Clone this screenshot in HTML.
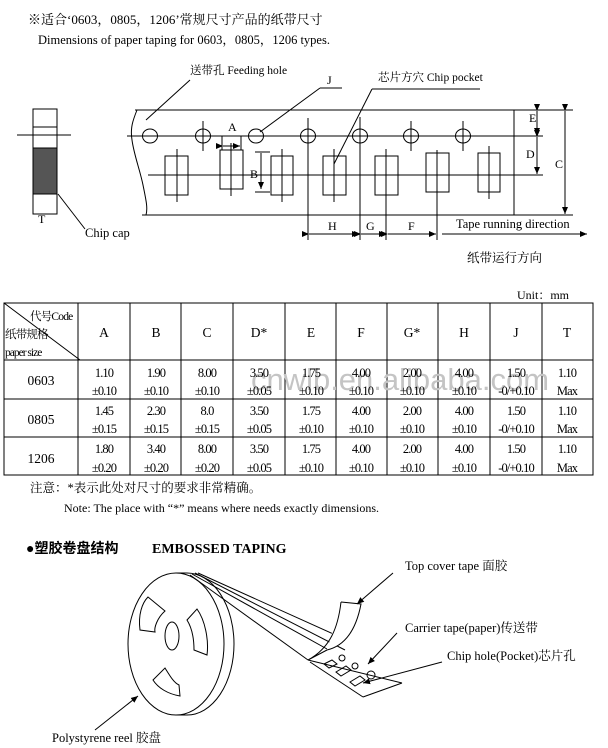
<!DOCTYPE html>
<html><head><meta charset="utf-8"><style>
html,body{margin:0;padding:0;background:#fff;}
svg{display:block;}
text{font-family:"Liberation Serif","Noto Serif CJK SC","Noto Sans CJK SC",serif;fill:#000;}
</style></head><body>
<svg width="608" height="748" viewBox="0 0 608 748" xmlns="http://www.w3.org/2000/svg">
<defs><marker id="ar" markerWidth="8" markerHeight="8" refX="7" refY="4" orient="auto" markerUnits="userSpaceOnUse"><path d="M0,1 L7,4 L0,7 z" fill="#000"/></marker></defs>
<text x="28" y="24" font-size="13">※适合‘0603，0805，1206’常规尺寸产品的纸带尺寸</text>
<text x="38" y="44" font-size="12.5">Dimensions of paper taping for 0603，0805，1206 types.</text>

<g stroke="#000" stroke-width="1" fill="none">
<rect x="33" y="109" width="24" height="105"/>
<line x1="33" y1="127" x2="57" y2="127"/>
<rect x="33" y="148" width="24" height="46" fill="#555"/>
<line x1="17" y1="135" x2="71" y2="135"/>
<line x1="58" y1="194" x2="85" y2="229"/>
<line x1="135" y1="110" x2="573" y2="110"/>
<line x1="127" y1="136" x2="542" y2="136"/>
<line x1="148" y1="175" x2="542" y2="175"/>
<line x1="142" y1="215" x2="573" y2="215"/>
<line x1="514" y1="110" x2="514" y2="215"/>
<path d="M137,110 C133,120 130,128 132,140 C134,155 140,170 143,185 C146,200 148,208 146,215"/>
<g>
<ellipse cx="150" cy="136" rx="7.5" ry="7"/>
<ellipse cx="203" cy="136" rx="7.5" ry="7"/>
<ellipse cx="256" cy="136" rx="7.5" ry="7"/>
<ellipse cx="308" cy="136" rx="7.5" ry="7"/>
<ellipse cx="360" cy="136" rx="7.5" ry="7"/>
<ellipse cx="411" cy="136" rx="7.5" ry="7"/>
<ellipse cx="463" cy="136" rx="7.5" ry="7"/>
<line x1="203" y1="121" x2="203" y2="151"/>
<line x1="411" y1="121" x2="411" y2="151"/>
<line x1="463" y1="121" x2="463" y2="151"/>
<line x1="308" y1="118" x2="308" y2="240"/>
<line x1="360" y1="117" x2="360" y2="240"/>
</g>
<rect x="165" y="156" width="23" height="39"/><line x1="177" y1="149" x2="177" y2="202"/>
<rect x="220" y="150" width="23" height="39"/><line x1="231" y1="143" x2="231" y2="196"/>
<rect x="271" y="156" width="22" height="39"/><line x1="282" y1="149" x2="282" y2="202"/>
<rect x="323" y="156" width="23" height="39"/><line x1="334" y1="149" x2="334" y2="202"/>
<rect x="375" y="156" width="23" height="39"/><line x1="386" y1="149" x2="386" y2="240"/>
<rect x="426" y="153" width="23" height="39"/><line x1="437" y1="150" x2="437" y2="240"/>
<rect x="478" y="153" width="22" height="39"/><line x1="489" y1="146" x2="489" y2="199"/>
<line x1="222" y1="136" x2="222" y2="150"/><line x1="241" y1="136" x2="241" y2="150"/>
<line x1="223" y1="146" x2="240" y2="146" marker-end="url(#ar)" marker-start="url(#ar)"/>
<line x1="255" y1="152" x2="270" y2="152"/><line x1="255" y1="192" x2="270" y2="192"/>
<line x1="261" y1="153" x2="261" y2="189" marker-end="url(#ar)"/>
<line x1="514" y1="136" x2="543" y2="136"/><line x1="514" y1="175" x2="543" y2="175"/>
<line x1="537" y1="111" x2="537" y2="135" marker-end="url(#ar)" marker-start="url(#ar)"/>
<line x1="537" y1="137" x2="537" y2="174" marker-end="url(#ar)" marker-start="url(#ar)"/>
<line x1="565" y1="111" x2="565" y2="214" marker-end="url(#ar)" marker-start="url(#ar)"/>
<line x1="309" y1="234" x2="359" y2="234" marker-end="url(#ar)" marker-start="url(#ar)"/>
<line x1="361" y1="234" x2="386" y2="234" marker-end="url(#ar)" marker-start="url(#ar)"/>
<line x1="388" y1="234" x2="436" y2="234" marker-end="url(#ar)" marker-start="url(#ar)"/>
<line x1="442" y1="234" x2="587" y2="234" marker-end="url(#ar)"/>
<line x1="190" y1="80" x2="146" y2="120"/>
<line x1="320" y1="88" x2="342" y2="88"/><line x1="320" y1="88" x2="260" y2="132"/>
<line x1="372" y1="89" x2="480" y2="89"/><line x1="372" y1="89" x2="334" y2="164"/>
</g>
<text x="190" y="74" font-size="11.5">送带孔 Feeding hole</text>
<text x="327" y="84" font-size="12">J</text>
<text x="378" y="81" font-size="11.5">芯片方穴 Chip pocket</text>
<text x="228" y="131" font-size="12">A</text>
<text x="250" y="178" font-size="12">B</text>
<text x="529" y="122" font-size="12">E</text>
<text x="526" y="158" font-size="12">D</text>
<text x="555" y="168" font-size="12">C</text>
<text x="328" y="230" font-size="12">H</text>
<text x="366" y="230" font-size="12">G</text>
<text x="408" y="230" font-size="12">F</text>
<text x="456" y="228" font-size="12.5">Tape running direction</text>
<text x="467" y="262" font-size="12.5">纸带运行方向</text>
<text x="38" y="223" font-size="12">T</text>
<text x="85" y="237" font-size="12.5">Chip cap</text>

<text x="517" y="299" font-size="12">Unit：mm</text>
<g stroke="#000" stroke-width="1" fill="none">
<rect x="4" y="303" width="589" height="172"/>
<line x1="4" y1="360" x2="593" y2="360"/>
<line x1="4" y1="399" x2="593" y2="399"/>
<line x1="4" y1="437" x2="593" y2="437"/>
<line x1="78" y1="303" x2="78" y2="475"/><line x1="130" y1="303" x2="130" y2="475"/>
<line x1="181" y1="303" x2="181" y2="475"/><line x1="233" y1="303" x2="233" y2="475"/>
<line x1="285" y1="303" x2="285" y2="475"/><line x1="336" y1="303" x2="336" y2="475"/>
<line x1="387" y1="303" x2="387" y2="475"/><line x1="438" y1="303" x2="438" y2="475"/>
<line x1="490" y1="303" x2="490" y2="475"/><line x1="542" y1="303" x2="542" y2="475"/>
<line x1="4" y1="303" x2="80" y2="360"/>
</g>
<text x="30" y="320" font-size="11.5" letter-spacing="-0.8">代号Code</text>
<text x="5" y="338" font-size="11.5" letter-spacing="-0.8">纸带规格</text>
<text x="5" y="356" font-size="11.5" letter-spacing="-1">paper size</text>
<text x="400" y="390" font-size="31" text-anchor="middle" style="font-family:'Liberation Sans',sans-serif;fill:#c4c4c4">cnwlb.en.alibaba.com</text>
<g font-size="13.5" text-anchor="middle">
<text x="104" y="337">A</text><text x="156" y="337">B</text><text x="207" y="337">C</text><text x="259" y="337">D*</text><text x="311" y="337">E</text><text x="361" y="337">F</text><text x="412" y="337">G*</text><text x="464" y="337">H</text><text x="516" y="337">J</text><text x="567" y="337">T</text>
<text x="41" y="385">0603</text><text x="41" y="424">0805</text><text x="41" y="463">1206</text>
</g>
<g font-size="12.5" text-anchor="middle" letter-spacing="-0.9">
<text x="104" y="377">1.10</text><text x="104" y="395">±0.10</text>
<text x="156" y="377">1.90</text><text x="156" y="395">±0.10</text>
<text x="207" y="377">8.00</text><text x="207" y="395">±0.10</text>
<text x="259" y="377">3.50</text><text x="259" y="395">±0.05</text>
<text x="311" y="377">1.75</text><text x="311" y="395">±0.10</text>
<text x="361" y="377">4.00</text><text x="361" y="395">±0.10</text>
<text x="412" y="377">2.00</text><text x="412" y="395">±0.10</text>
<text x="464" y="377">4.00</text><text x="464" y="395">±0.10</text>
<text x="516" y="377">1.50</text><text x="516" y="395">-0/+0.10</text>
<text x="567" y="377">1.10</text><text x="567" y="395">Max</text>

<text x="104" y="415">1.45</text><text x="104" y="433">±0.15</text>
<text x="156" y="415">2.30</text><text x="156" y="433">±0.15</text>
<text x="207" y="415">8.0</text><text x="207" y="433">±0.15</text>
<text x="259" y="415">3.50</text><text x="259" y="433">±0.05</text>
<text x="311" y="415">1.75</text><text x="311" y="433">±0.10</text>
<text x="361" y="415">4.00</text><text x="361" y="433">±0.10</text>
<text x="412" y="415">2.00</text><text x="412" y="433">±0.10</text>
<text x="464" y="415">4.00</text><text x="464" y="433">±0.10</text>
<text x="516" y="415">1.50</text><text x="516" y="433">-0/+0.10</text>
<text x="567" y="415">1.10</text><text x="567" y="433">Max</text>

<text x="104" y="453">1.80</text><text x="104" y="472">±0.20</text>
<text x="156" y="453">3.40</text><text x="156" y="472">±0.20</text>
<text x="207" y="453">8.00</text><text x="207" y="472">±0.20</text>
<text x="259" y="453">3.50</text><text x="259" y="472">±0.05</text>
<text x="311" y="453">1.75</text><text x="311" y="472">±0.10</text>
<text x="361" y="453">4.00</text><text x="361" y="472">±0.10</text>
<text x="412" y="453">2.00</text><text x="412" y="472">±0.10</text>
<text x="464" y="453">4.00</text><text x="464" y="472">±0.10</text>
<text x="516" y="453">1.50</text><text x="516" y="472">-0/+0.10</text>
<text x="567" y="453">1.10</text><text x="567" y="472">Max</text>
</g>

<text x="30" y="492" font-size="12.5">注意：*表示此处对尺寸的要求非常精确。</text>
<text x="64" y="512" font-size="12">Note: The place with “*” means where needs exactly dimensions.</text>
<text x="26" y="553" font-size="14" font-weight="bold" style="font-family:'Liberation Serif','Noto Sans CJK SC',serif">●塑胶卷盘结构</text>
<text x="152" y="553" font-size="14" font-weight="bold">EMBOSSED TAPING</text>

<g stroke="#000" stroke-width="1" fill="none">
<path d="M187,573 A47,71 0 0 1 187,715"/>
<line x1="176" y1="573" x2="187" y2="573"/>
<line x1="176" y1="715" x2="187" y2="715"/>
<ellipse cx="176" cy="644" rx="48" ry="71" fill="#fff"/>
<ellipse cx="172" cy="636" rx="7" ry="14"/>
<path d="M148,597 L165,611 C157,618 154,628 155,632 L140,630 C138,615 142,603 148,597 z"/>
<path d="M187,620 L197,609 C205,620 209,640 207,655 L194,650 C194,638 192,628 187,620 z"/>
<path d="M153,680 L165,668 C170,676 174,683 179,685 L180,696 C168,694 158,688 153,680 z"/>
<line x1="190" y1="575" x2="308" y2="660"/>
<line x1="192" y1="574" x2="327" y2="649"/>
<line x1="195" y1="573" x2="345" y2="650"/>
<line x1="198" y1="573" x2="340" y2="637"/>
<line x1="308" y1="660" x2="402" y2="683"/>
<line x1="402" y1="683" x2="363" y2="697"/>
<line x1="363" y1="697" x2="310" y2="662"/>
<path d="M341,602 L361,604 C357,625 348,645 327,650" fill="#fff"/>
<path d="M341,602 C338,628 330,648 308,660 L327,650"/>
<circle cx="342" cy="658" r="3"/><circle cx="355" cy="666" r="3"/><circle cx="371" cy="675" r="4"/>
<path d="M324,664 L332,660 L337,664 L329,668 z"/>
<path d="M336,672 L346,666 L351,670 L341,676 z"/>
<path d="M350,682 L360,676 L365,680 L355,686 z"/>
<line x1="393" y1="573" x2="357" y2="604" marker-end="url(#ar)"/>
<line x1="397" y1="633" x2="368" y2="664" marker-end="url(#ar)"/>
<line x1="442" y1="662" x2="363" y2="683" marker-end="url(#ar)"/>
<line x1="95" y1="730" x2="138" y2="696" marker-end="url(#ar)"/>
</g>
<text x="405" y="570" font-size="12.5">Top cover tape 面胶</text>
<text x="405" y="632" font-size="12.5">Carrier tape(paper)传送带</text>
<text x="447" y="660" font-size="12.5">Chip hole(Pocket)芯片孔</text>
<text x="52" y="742" font-size="12.5">Polystyrene reel 胶盘</text>
</svg>
</body></html>
